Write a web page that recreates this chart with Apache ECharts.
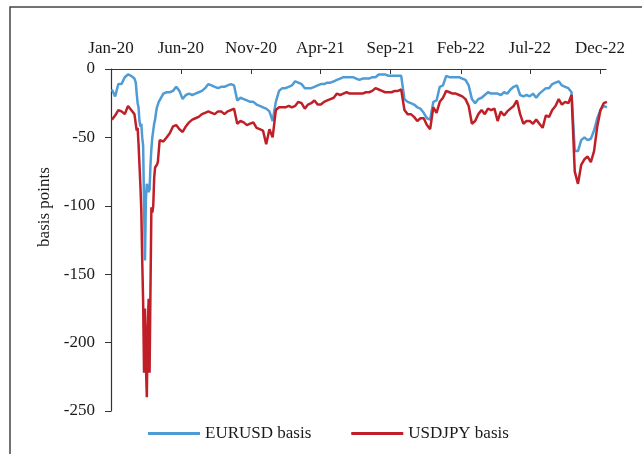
<!DOCTYPE html>
<html>
<head>
<meta charset="utf-8">
<script src="https://cdn.jsdelivr.net/npm/echarts@6/dist/echarts.min.js"></script>
<style>
    html, body { margin: 0; padding: 0; background: #fff; }
    #chart { width: 642px; height: 454px; }
</style>
</head>
<body>
<div id="chart"></div>
<script>
// weekly observations, first one on 3 Jan 2020 (null = covered by the finer March 2020 window)
const firstWeek = '2020-01-03';
const axisStart = '2020-01-01', axisEnd = '2022-12-14';
const tickDates = ['2020-01-01', '2020-06-01', '2020-11-01', '2021-04-01', '2021-09-01', '2022-02-01', '2022-07-01', '2022-12-01'];
const tickLabels = ['Jan-20', 'Jun-20', 'Nov-20', 'Apr-21', 'Sep-21', 'Feb-22', 'Jul-22', 'Dec-22'];
const seriesNames = ['EURUSD basis', 'USDJPY basis'];

const eurusd = [
    -15, -20, -11, -11, -6, -4, -5, -7, null, null,
    null, null, null, null, null, null, -18, -17, -17, -16,
    -13, -16, -22, -19, -18, -19, -18, -17, -16, -14,
    -11, -12, -13, -14, -13, -13, -12, -11, -12, -23,
    -21, -22, -23, -24, -24, -26, -27, -28, -29, -31,
    -38, -24, -16, -14, -14, -13, -12, -9, -10, -11,
    -14, -14, -14, -13, -12, -11, -11, -10, -10, -9,
    -8, -7, -6, -6, -6, -6, -7, -8, -7, -7,
    -7, -6, -6, -4, -4, -4, -5, -5, -5, -5,
    -5, -22, -24, -25, -26, -28, -29, -32, -36, -37,
    -24, -23, -13, -12, -5, -6, -6, -6, -6, -7,
    -8, -12, -22, -25, -22, -21, -19, -17, -18, -18,
    -18, -19, -17, -18, -15, -13, -12, -19, -20, -19,
    -20, -18, -21, -18, -16, -14, -14, -11, -10, -9,
    -12, -13, -14, -17, -60, -60, -52, -50, -52, -51,
    -45, -36, -30, -27, -28
];
const usdjpy = [
    -37, -34, -30, -31, -33, -27, -30, -33, null, null,
    null, null, null, null, null, null, -53, -50, -47, -42,
    -41, -44, -46, -42, -39, -37, -36, -35, -33, -32,
    -31, -32, -33, -31, -31, -33, -31, -30, -29, -40,
    -38, -39, -41, -40, -39, -43, -44, -45, -55, -44,
    -50, -30, -28, -28, -28, -27, -28, -27, -24, -25,
    -29, -26, -25, -23, -26, -26, -24, -23, -22, -21,
    -18, -19, -18, -17, -18, -18, -18, -18, -18, -17,
    -17, -16, -14, -15, -16, -17, -17, -17, -16, -16,
    -15, -30, -33, -33, -35, -38, -36, -36, -41, -44,
    -28, -32, -24, -21, -16, -17, -18, -18, -19, -20,
    -22, -27, -40, -38, -33, -30, -33, -29, -30, -29,
    -38, -31, -34, -31, -29, -27, -23, -33, -40, -38,
    -38, -40, -37, -40, -43, -34, -35, -30, -27, -22,
    -26, -24, -25, -19, -75, -84, -70, -66, -64, -68,
    -60, -42, -30, -25, -24
];

// March 2020 stress, every second day from 24 Feb 2020
const spikeStart = '2020-02-24';
const eurusdSpike = [
    -10, -18, -25, -28, -38, -42, -40, -50, -56, -100,
    -140, -95, -84, -86, -90, -88, -70, -58, -50, -45,
    -40, -37, -32, -28, -26, -24, -23
];
const usdjpySpike = [
    -33, -45, -43, -55, -70, -85, -103, -140, -170, -222,
    -175, -215, -240, -190, -168, -222, -160, -101, -105, -100,
    -80, -72, -72, -70, -68, -60, -52
];

// x axis runs in days counted from axisStart
const dayMs = 24 * 3600 * 1000;
const dayOf = function (s) {
    return Math.round((new Date(s + 'T00:00:00Z') - new Date(axisStart + 'T00:00:00Z')) / dayMs);
};
const buildPoints = function (weekly, spike) {
    var pts = [];
    weekly.forEach(function (v, i) {
        if (v !== null) pts.push([dayOf(firstWeek) + i * 7, v]);
    });
    spike.forEach(function (v, i) {
        pts.push([dayOf(spikeStart) + i * 2, v]);
    });
    return pts.sort(function (a, b) { return a[0] - b[0]; });
};
const tickValues = tickDates.map(dayOf);
const labelOf = {};
tickValues.forEach(function (t, i) {
    labelOf[t] = tickLabels[i];
});

const textColor = '#1a1a1a', axisColor = '#333', serif = 'Liberation Serif';
const blue = '#4f9bd6', red = '#c01f28';

var chart = echarts.init(document.getElementById('chart'), null, {renderer: 'canvas'});
chart.setOption({
    animation: false,
    backgroundColor: '#fff',
    textStyle: {fontFamily: serif},
    graphic: [{
        type: 'polyline',
        shape: {points: [[10, 454], [10, 7], [642, 7]]},
        style: {stroke: '#444', lineWidth: 1.5, fill: null}
    }],
    grid: {left: 111, right: 36, top: 69, bottom: 43},
    legend: {
        left: 143,
        top: 420,
        icon: 'rect',
        itemWidth: 52,
        itemHeight: 3,
        itemGap: 40,
        data: seriesNames,
        textStyle: {fontFamily: serif, fontSize: 17, color: textColor}
    },
    xAxis: {
        type: 'value',
        position: 'top',
        min: 0,
        max: dayOf(axisEnd),
        axisLine: {lineStyle: {color: axisColor, width: 1.2}},
        axisTick: {inside: true, length: 5, customValues: tickValues, lineStyle: {color: axisColor}},
        axisLabel: {
            customValues: tickValues,
            margin: 12,
            fontFamily: serif,
            fontSize: 17,
            color: textColor,
            formatter: function (v) {
                return labelOf[v] || '';
            }
        },
        splitLine: {show: false}
    },
    yAxis: {
        type: 'value',
        min: -250,
        max: 0,
        interval: 50,
        name: 'basis points',
        nameLocation: 'middle',
        nameGap: 55,
        nameTextStyle: {fontFamily: serif, fontSize: 17, color: textColor, padding: [0, 0, 0, 66]},
        axisLine: {show: true, lineStyle: {color: axisColor, width: 1.2}},
        axisTick: {show: true, length: 6, lineStyle: {color: axisColor}},
        axisLabel: {margin: 16, fontFamily: serif, fontSize: 17, color: textColor},
        splitLine: {show: false}
    },
    series: [
        {
            name: seriesNames[0],
            type: 'line',
            symbol: 'none',
            lineStyle: {color: blue, width: 2.5},
            itemStyle: {color: blue},
            data: buildPoints(eurusd, eurusdSpike)
        },
        {
            name: seriesNames[1],
            type: 'line',
            symbol: 'none',
            lineStyle: {color: red, width: 2.5},
            itemStyle: {color: red},
            data: buildPoints(usdjpy, usdjpySpike)
        }
    ]
});
</script>
</body>
</html>
